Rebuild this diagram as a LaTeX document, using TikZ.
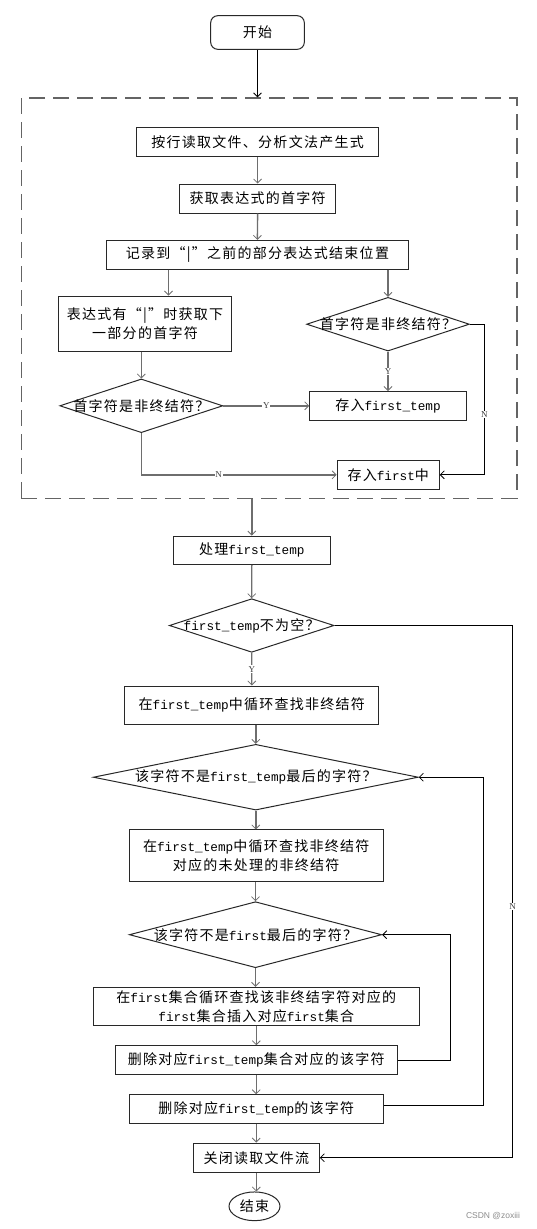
\documentclass[tikz,border=0pt]{standalone}
\usepackage{fontspec}
\setmainfont{Noto Sans CJK SC}[LetterSpace=9]
\newfontfamily\monofam{Liberation Mono}
\newfontfamily\labfam{Liberation Serif}
\newfontfamily\wmfam{Liberation Sans}
\usetikzlibrary{shapes.geometric,arrows.meta}
\newcommand{\myft}{{\fontsize{12.7}{19}\monofam first\_temp}}
\newcommand{\myfs}{{\fontsize{12.7}{19}\monofam first}}
\definecolor{boxc}{RGB}{40,40,40}
\definecolor{glc}{RGB}{110,110,110}
\definecolor{dashc}{RGB}{100,100,100}
\tikzset{
  >={Straight Barb[length=4pt,width=8pt,line width=0.8pt]},
  txt/.style={font=\fontsize{14}{19}\selectfont, text=black},
  box/.style={txt, draw=boxc, line width=1pt, inner sep=0pt, align=center},
  startn/.style={box, rounded corners=7pt},
  dia/.style={diamond, draw=boxc, line width=1pt, inner sep=0pt},
  dlab/.style={txt, inner sep=0pt},
  gline/.style={draw=glc, line width=1.4pt, ->},
  nline/.style={draw=black, line width=0.9pt, ->},
  yn/.style={fill=white, inner sep=0.8pt, font=\labfam\fontsize{9}{10}\selectfont, text=black!75},
  grpbox/.style={draw=dashc, line width=1.3pt, dash pattern=on 16pt off 8pt, inner sep=0pt}
}
\begin{document}
\begin{tikzpicture}[x=1pt,y=-1pt]
\useasboundingbox (0,0) rectangle (536,1229);

% start
\node[startn, minimum width=93.6, minimum height=33.6] (start) at (257.5,32.5) {开始};

% dashed group
\node[grpbox, minimum width=495.8, minimum height=400.3] (grp) at (269.1,298.15) {};

\node[box, minimum width=241.7, minimum height=29] (b1) at (257.6,142.2) {按行读取文件、分析文法产生式};
\node[box, minimum width=156.2, minimum height=29] (b2) at (257.6,198.5) {获取表达式的首字符};
\node[box, minimum width=302.2, minimum height=28.7] (b3) at (257.4,254.7) {记录到“|”之前的部分表达式结束位置};
\node[box, minimum width=172.3, minimum height=55] (lb) at (145,323.5) {表达式有“|”时获取下\\一部分的首字符};
\node[dia, minimum width=163, minimum height=53.7, label={[dlab]center:首字符是非终结符？}] (ld) at (141.3,405.8) {};
\node[dia, minimum width=162.7, minimum height=53.7, label={[dlab]center:首字符是非终结符？}] (rd) at (388,324.2) {};
\node[box, minimum width=156.6, minimum height=28.6] (ft) at (388,405.8) {存入\myft};
\node[box, minimum width=102.2, minimum height=29] (fi) at (388.2,474.8) {存入\myfs 中};

\coordinate (lbin) at (168.5,300);
\coordinate (nr) at (484.4,400);

% lower part
\node[box, minimum width=157, minimum height=28.3] (p) at (251.8,550.2) {处理\myft};
\node[dia, minimum width=164.7, minimum height=53.6, label={[dlab]center:\myft 不为空？}] (d1) at (251.7,625.5) {};
\node[box, minimum width=254.3, minimum height=38] (b4) at (251.8,705) {在\myft 中循环查找非终结符};
\node[dia, minimum width=325, minimum height=65.7, label={[dlab]center:该字符不是\myft 最后的字符？}] (d2) at (255.8,777.2) {};
\node[box, minimum width=254.3, minimum height=51.7] (b5) at (256.2,855.8) {在\myft 中循环查找非终结符\\对应的未处理的非终结符};
\node[dia, minimum width=252.4, minimum height=66, label={[dlab]center:该字符不是\myfs 最后的字符？}] (d3) at (255.5,934.7) {};
\node[box, minimum width=326, minimum height=38.4] (b6) at (256.3,1006.5) {在\myfs 集合循环查找该非终结字符对应的\\\myfs 集合插入对应\myfs 集合};
\node[box, minimum width=281.7, minimum height=29] (b7) at (256.2,1060.2) {删除对应\myft 集合对应的该字符};
\node[box, minimum width=254.3, minimum height=28.6] (b8) at (256.2,1109) {删除对应\myft 的该字符};
\node[box, minimum width=126, minimum height=29.3] (b9) at (256.3,1157.7) {关闭读取文件流};
\node[box, ellipse, minimum width=51, minimum height=28.7] (end) at (254.5,1206.3) {结束};

\node[font=\wmfam\fontsize{8.5}{10}\selectfont, text=black!45] (wm) at (493,1215.5) {CSDN @zoxiii};

\coordinate (l3) at (450,0);
\coordinate (l2) at (483.3,0);
\coordinate (nn) at (512.5,0);

% connectors, upper
\draw[nline] (start.south) -- (start.south |- grp.north);
\draw[gline] (b1.south) -- (b2.north);
\draw[gline] (b2.south) -- (b3.north);
\draw[gline] (b3.south -| lbin) -- (lb.north -| lbin);
\draw[gline] (b3.south -| rd.north) -- (rd.north);
\draw[gline] (lb.south -| ld.north) -- (ld.north);
\draw[gline] (rd.south) -- node[yn]{Y} (ft.north);
\draw[gline] (ld.east) -- node[yn]{Y} (ft.west);
\draw[nline] (rd.east) -| node[yn,pos=0.8]{N} (fi.east -| nr) -- (fi.east);
\draw[gline] (ld.south) |- node[yn,pos=0.698]{N} (fi.west);

% connectors, lower
\draw[gline] (p.north |- grp.south) -- (p.north);
\draw[gline] (p.south) -- (d1.north);
\draw[gline] (d1.south) -- node[yn]{Y} (b4.north);
\draw[gline] (d2.north |- b4.south) -- (d2.north);
\draw[gline] (d2.south) -- (d2.south |- b5.north);
\draw[gline] (d3.north |- b5.south) -- (d3.north);
\draw[gline] (d3.south) -- (d3.south |- b6.north);
\draw[gline] (b6.south) -- (b6.south |- b7.north);
\draw[gline] (b7.south) -- (b7.south |- b8.north);
\draw[gline] (b8.south) -- (b8.south |- b9.north);
\draw[gline] (b9.south) -- (b9.south |- end.north);

% loops
\draw[nline] (b7.east) -| (d3.east -| l3) -- (d3.east);
\draw[nline] ([yshift=3.3pt]b8.east) -| (d2.east -| l2) -- (d2.east);
\draw[nline] (d1.east) -| node[yn,pos=0.764]{N} (b9.east -| nn) -- (b9.east);
\end{tikzpicture}
\end{document}
